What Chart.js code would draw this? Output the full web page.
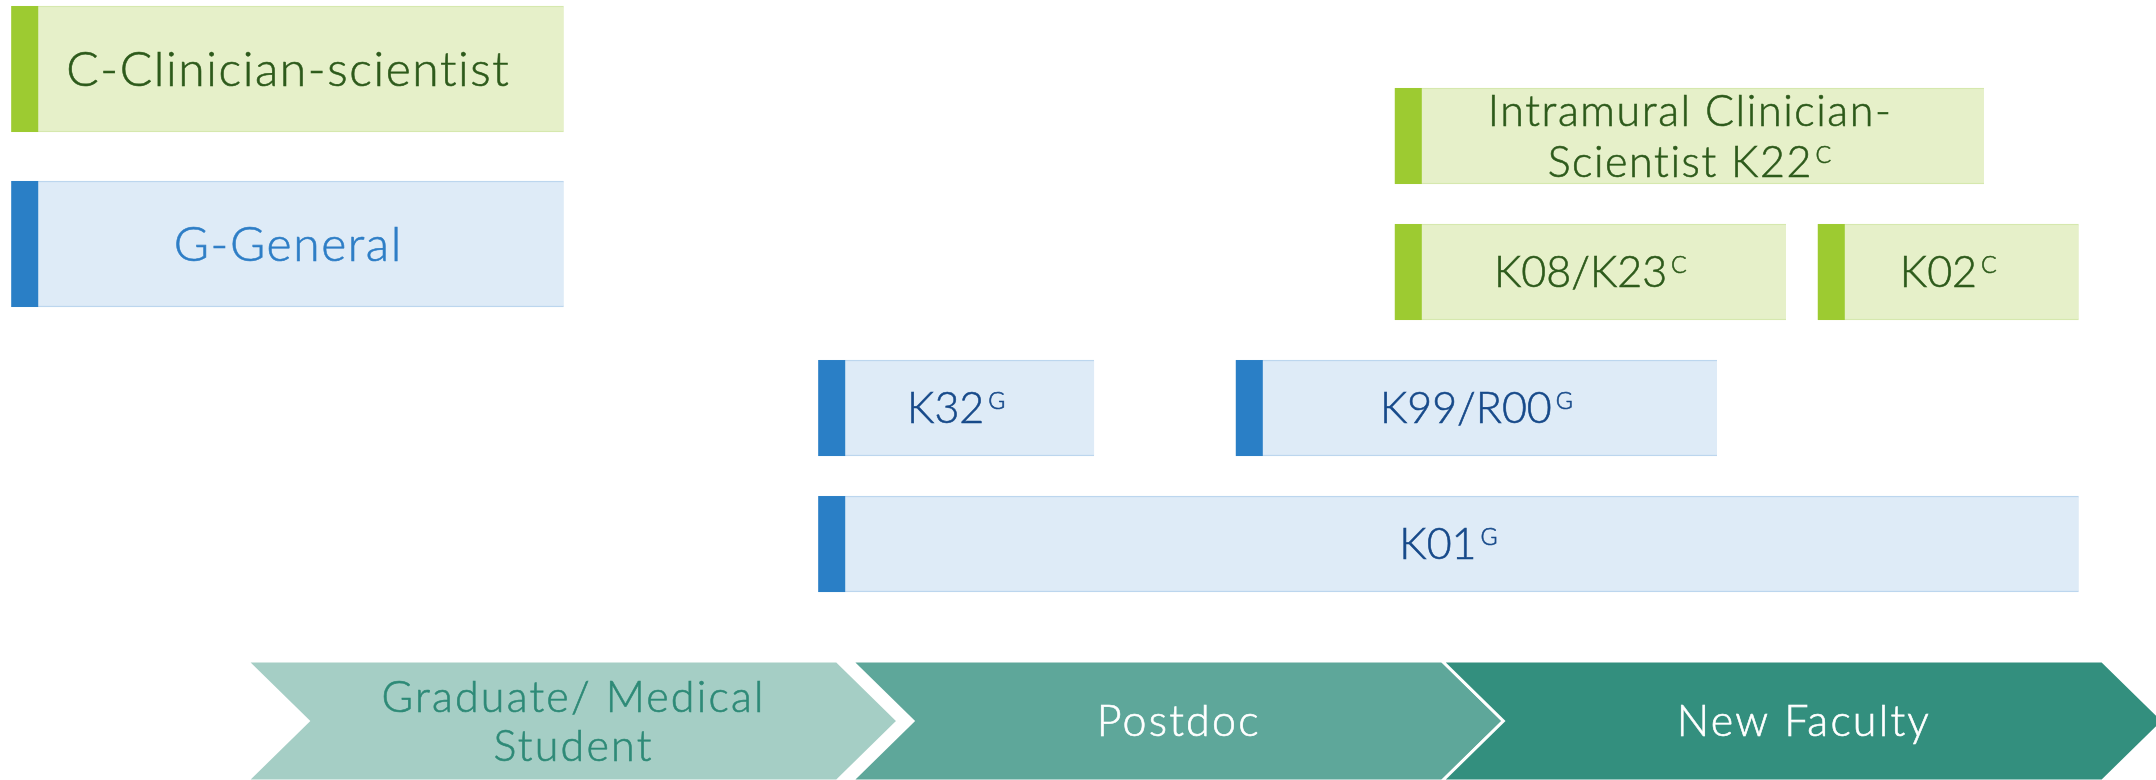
<!DOCTYPE html>
<html><head><meta charset="utf-8">
<script src="https://cdn.jsdelivr.net/npm/chart.js@4.4.1/dist/chart.umd.min.js"></script>
<style>html,body{margin:0;padding:0;background:#fff;overflow:hidden}#wrap{width:2156px;height:780px}</style>
</head><body><div id="wrap"><canvas id="c" width="2156" height="780"></canvas></div>
<script>
// ---- Data (x = career timeline units, y = row number) ----
const stageNames = [['Graduate/ Medical', 'Student'], ['Postdoc'], ['New Faculty']];
const stageStart = [0, 10.08, 19.92];
const stageEnd = [9.83, 19.92, 30.92];

const keyNames = [['C-Clinician-scientist'], ['G-General']];
const keyTypes = ['C', 'G'];
const keyRows = [1, 2];
const keyStart = [-3.93, -3.93];
const keyEnd = [5.28, 5.28];

const awardNames = [['Intramural Clinician-', 'Scientist K22'], ['K08/K23'], ['K02'], ['K32'], ['K99/R00'], ['K01']];
const awardTypes = ['C', 'C', 'C', 'G', 'G', 'G'];
const awardRows = [1, 2, 2, 3, 3, 4];
const awardStart = [19.13, 19.13, 26.18, 9.52, 16.48, 9.52];
const awardEnd = [28.95, 25.65, 30.53, 14.12, 24.50, 30.53];

// ---- Styles ----
const FONT = "Lato, 'Noto Sans', sans-serif";
const WEIGHT = 300;
const palette = {
  C: { fill: '#E6F0C9', edge: '#D6E8AE', accent: '#9DCB31', text: '#2D5A1B', keyText: '#2D5A1B' },
  G: { fill: '#DEEBF7', edge: '#BCD6EE', accent: '#2A7FC6', text: '#174A8A', keyText: '#2E7EC6' }
};
const stageFill = ['#A5CEC5', '#5EA79A', '#338F7E'];
const stageText = ['#2E8A77', '#FFFFFF', '#FFFFFF'];

function drawText(ctx, txt, x, y, color) {
  ctx.fillText(txt, x, y);
  ctx.strokeStyle = color;
  ctx.lineWidth = 0.6;
  ctx.strokeText(txt, x, y);
}

function drawLines(ctx, lines, sup, cx, cy, size, lh, color, spacing) {
  ctx.save();
  ctx.fillStyle = color;
  ctx.textBaseline = 'alphabetic';
  ctx.textAlign = 'left';
  const cap = size * 0.7165;
  const n = lines.length;
  const firstBase = cy + cap / 2 - (n - 1) * lh / 2;
  const supSize = size * 0.54;
  const gap = 4;
  lines.forEach((ln, k) => {
    const ls = /[a-z]/.test(ln) ? spacing : 0;
    ctx.letterSpacing = ls + 'px';
    ctx.font = `${WEIGHT} ${size}px ${FONT}`;
    const w1 = ctx.measureText(ln).width - ls;
    let w2 = 0;
    const isLast = k === n - 1;
    ctx.letterSpacing = '0px';
    if (sup && isLast) {
      ctx.font = `${WEIGHT} ${supSize}px ${FONT}`;
      w2 = ctx.measureText(sup).width + gap;
    }
    const x0 = cx - (w1 + w2) / 2;
    const base = firstBase + k * lh;
    ctx.letterSpacing = ls + 'px';
    ctx.font = `${WEIGHT} ${size}px ${FONT}`;
    drawText(ctx, ln, x0, base, color);
    ctx.letterSpacing = '0px';
    if (sup && isLast) {
      ctx.font = `${WEIGHT} ${supSize}px ${FONT}`;
      drawText(ctx, sup, x0 + w1 + gap, base - cap + supSize * 0.7165, color);
    }
  });
  ctx.restore();
}

const decor = {
  id: 'decor',
  beforeDatasetsDraw(chart) {
    const ctx = chart.ctx, xs = chart.scales.x;
    const top = chart.chartArea.bottom, bottom = chart.height + 1;
    const mid = (top + bottom) / 2, d = (bottom - top) / 2 * 1.02;
    stageNames.forEach((name, i) => {
      const s = xs.getPixelForValue(stageStart[i]);
      const e = xs.getPixelForValue(stageEnd[i]);
      ctx.save();
      ctx.beginPath();
      ctx.moveTo(s, top); ctx.lineTo(e, top); ctx.lineTo(e + d, mid);
      ctx.lineTo(e, bottom); ctx.lineTo(s, bottom); ctx.lineTo(s + d, mid);
      ctx.closePath();
      ctx.fillStyle = stageFill[i];
      ctx.fill();
      ctx.strokeStyle = '#FFFFFF';
      ctx.lineWidth = 3;
      ctx.stroke();
      ctx.restore();
      drawLines(ctx, name, null, (s + e + d) / 2, mid, 43, 49, stageText[i], 2.2);
    });
  },
  afterDatasetsDraw(chart) {
    const ctx = chart.ctx;
    chart.data.datasets.forEach((ds, di) => {
      const meta = chart.getDatasetMeta(di);
      meta.data.forEach((el, i) => {
        const p = el.getProps(['x', 'y', 'base', 'height'], true);
        const left = Math.min(p.x, p.base), right = Math.max(p.x, p.base);
        const type = ds.types[i];
        const pal = palette[type];
        ctx.fillStyle = pal.accent;
        ctx.fillRect(left, p.y - p.height / 2, 27, p.height);
        if (ds.isKey) {
          drawLines(ctx, ds.names[i], null, (left + right) / 2, p.y, 48, 56, pal.keyText, 1.6);
        } else {
          drawLines(ctx, ds.names[i], type, (left + right) / 2, p.y, 43, 51, pal.text, 1.6);
        }
      });
    });
  }
};

const awardData = awardStart.map((s, i) => ({ x: [s, awardEnd[i]], y: awardRows[i] }));
const keyData = keyStart.map((s, i) => ({ x: [s, keyEnd[i]], y: keyRows[i] }));

new Chart(document.getElementById('c'), {
  type: 'bar',
  data: {
    datasets: [
      {
        label: 'Key', isKey: true, names: keyNames, types: keyTypes,
        data: keyData, yAxisID: 'yKey', barThickness: 126,
        backgroundColor: c => palette[keyTypes[c.dataIndex]].fill,
        borderColor: c => palette[keyTypes[c.dataIndex]].edge,
        borderWidth: { top: 1.5, bottom: 1.5, left: 0, right: 0 }, borderSkipped: false, grouped: false
      },
      {
        label: 'Career development awards', isKey: false, names: awardNames, types: awardTypes,
        data: awardData, yAxisID: 'yAward', barThickness: 96,
        backgroundColor: c => palette[awardTypes[c.dataIndex]].fill,
        borderColor: c => palette[awardTypes[c.dataIndex]].edge,
        borderWidth: { top: 1.5, bottom: 1.5, left: 0, right: 0 }, borderSkipped: false, grouped: false
      }
    ]
  },
  options: {
    indexAxis: 'y',
    responsive: false,
    animation: false,
    devicePixelRatio: 1,
    layout: { padding: { top: 0, left: 0, right: 0, bottom: 119 } },
    plugins: { legend: { display: false }, tooltip: { enabled: false } },
    scales: {
      x: { type: 'linear', min: -4.117, max: 31.817, offset: false, display: false },
      yAward: { type: 'linear', reverse: true, min: 0, max: 4.86, offset: false, display: false },
      yKey: { type: 'linear', reverse: true, min: 0.6057, max: 4.383, offset: false, display: false }
    }
  },
  plugins: [decor]
});
</script></body></html>
